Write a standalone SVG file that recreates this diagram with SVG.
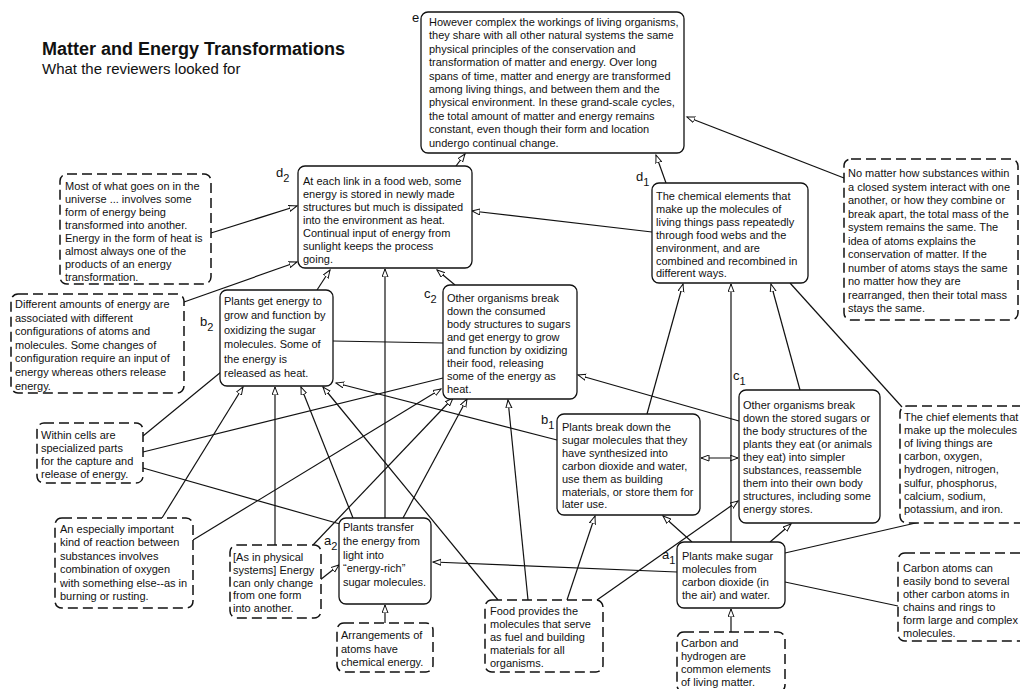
<svg xmlns="http://www.w3.org/2000/svg" width="1020" height="689" viewBox="0 0 1020 689">
<style>
text{font-family:"Liberation Sans",Arial,Helvetica,sans-serif;fill:#111;}
.t{font-size:11px;}
.lab{font-size:13px;}
.sub{font-size:11px;}
.box{fill:#fff;stroke:#111;stroke-width:1.3;}
.dbox{fill:#fff;stroke:#111;stroke-width:1.5;stroke-dasharray:10 5;}
.c{stroke:#111;stroke-width:1.2;fill:none;}
.a{marker-end:url(#ah);}
.b{marker-start:url(#ahs);}
</style>
<defs>
<marker id="ah" markerUnits="userSpaceOnUse" markerWidth="10" markerHeight="8" refX="8" refY="3.5" orient="auto">
<path d="M0,0.5 L8,3.5 L0,6.5 z" fill="#fff" stroke="#111" stroke-width="1"/>
</marker>
<marker id="ahs" markerUnits="userSpaceOnUse" markerWidth="10" markerHeight="8" refX="0" refY="3.5" orient="auto">
<path d="M8,0.5 L0,3.5 L8,6.5 z" fill="#fff" stroke="#111" stroke-width="1"/>
</marker>
</defs>
<rect width="1020" height="689" fill="#fff"/>

<g id="title">
<text x="42" y="55" style="font-size:18px;font-weight:bold">Matter and Energy Transformations</text>
<text x="42" y="74" style="font-size:15px">What the reviewers looked for</text>
</g>

<g id="connectors">
<line class="c a" x1="456" y1="166" x2="465" y2="154"/>
<line class="c a" x1="666" y1="183" x2="656" y2="155"/>
<line class="c a" x1="844" y1="178" x2="687" y2="117"/>
<line class="c a" x1="652" y1="232" x2="472" y2="211"/>
<line class="c a" x1="211" y1="233" x2="297" y2="206"/>
<line class="c a" x1="184" y1="302" x2="297" y2="262"/>
<line class="c a" x1="317" y1="290" x2="330" y2="270"/>
<line class="c a" x1="385" y1="518" x2="385" y2="269"/>
<line class="c a" x1="455" y1="285" x2="437" y2="270"/>
<line class="c" x1="333" y1="341" x2="443" y2="343"/>
<line class="c" x1="143" y1="436" x2="221" y2="372"/>
<line class="c" x1="143" y1="452" x2="443" y2="378"/>
<line class="c" x1="143" y1="468" x2="340" y2="524"/>
<line class="c a" x1="162" y1="518" x2="243" y2="387"/>
<line class="c a" x1="193" y1="540" x2="441" y2="389"/>
<line class="c a" x1="275" y1="545" x2="275" y2="387"/>
<line class="c a" x1="313" y1="545" x2="453" y2="398"/>
<line class="c a" x1="320" y1="580" x2="339" y2="565"/>
<line class="c a" x1="353" y1="518" x2="301" y2="387"/>
<line class="c a" x1="403" y1="518" x2="467" y2="399"/>
<line class="c a" x1="498" y1="600" x2="323" y2="387"/>
<line class="c a" x1="528" y1="600" x2="508" y2="400"/>
<line class="c a" x1="567" y1="600" x2="595" y2="516"/>
<line class="c a" x1="597" y1="600" x2="738" y2="501"/>
<line class="c a" x1="557" y1="440" x2="336" y2="383"/>
<line class="c a" x1="647" y1="414" x2="683" y2="284"/>
<line class="c a" x1="739" y1="421" x2="578" y2="375"/>
<line class="c a" x1="800" y1="390" x2="771" y2="284"/>
<line class="c a b" x1="701" y1="458" x2="738" y2="458"/>
<line class="c a" x1="731" y1="542" x2="731" y2="284"/>
<line class="c a" x1="692" y1="542" x2="663" y2="516"/>
<line class="c a" x1="770" y1="542" x2="791" y2="524"/>
<line class="c a" x1="677" y1="572" x2="433" y2="562"/>
<line class="c" x1="785" y1="553" x2="920" y2="522"/>
<line class="c" x1="785" y1="582" x2="898" y2="606"/>
<line class="c" x1="790" y1="283" x2="902" y2="407"/>
<line class="c a" x1="731" y1="632" x2="731" y2="609"/>
<line class="c a" x1="385" y1="623" x2="385" y2="605"/>
</g>

<g id="e">
<rect class="box" x="421" y="12" width="263" height="141" rx="7"/>
<text class="lab" x="412" y="22">e</text>
<text class="t"><tspan x="429" y="26">However complex the workings of living organisms,</tspan><tspan x="429" y="39.4">they share with all other natural systems the same</tspan><tspan x="429" y="52.8">physical principles of the conservation and</tspan><tspan x="429" y="66.2">transformation of matter and energy. Over long</tspan><tspan x="429" y="79.6">spans of time, matter and energy are transformed</tspan><tspan x="429" y="93">among living things, and between them and the</tspan><tspan x="429" y="106.4">physical environment. In these grand-scale cycles,</tspan><tspan x="429" y="119.8">the total amount of matter and energy remains</tspan><tspan x="429" y="133.2">constant, even though their form and location</tspan><tspan x="429" y="146.6">undergo continual change.</tspan></text>
</g>

<g id="d2">
<rect class="box" x="298" y="166" width="174" height="102" rx="7"/>
<text class="lab" x="276" y="177">d<tspan class="sub" dy="5">2</tspan></text>
<text class="t"><tspan x="303" y="185">At each link in a food web, some</tspan><tspan x="303" y="198">energy is stored in newly made</tspan><tspan x="303" y="211">structures but much is dissipated</tspan><tspan x="303" y="224">into the environment as heat.</tspan><tspan x="303" y="237">Continual input of energy from</tspan><tspan x="303" y="250">sunlight keeps the process</tspan><tspan x="303" y="263">going.</tspan></text>
</g>

<g id="d1">
<rect class="box" x="652" y="183" width="156" height="100" rx="7"/>
<text class="lab" x="636" y="181">d<tspan class="sub" dy="5">1</tspan></text>
<text class="t"><tspan x="656" y="200">The chemical elements that</tspan><tspan x="656" y="212.9">make up the molecules of</tspan><tspan x="656" y="225.8">living things pass repeatedly</tspan><tspan x="656" y="238.7">through food webs and the</tspan><tspan x="656" y="251.6">environment, and are</tspan><tspan x="656" y="264.5">combined and recombined in</tspan><tspan x="656" y="277.4">different ways.</tspan></text>
</g>

<g id="b2">
<rect class="box" x="220" y="290" width="113" height="96" rx="7"/>
<text class="lab" x="200" y="326">b<tspan class="sub" dy="5">2</tspan></text>
<text class="t"><tspan x="224" y="305">Plants get energy to</tspan><tspan x="224" y="319.4">grow and function by</tspan><tspan x="224" y="333.8">oxidizing the sugar</tspan><tspan x="224" y="348.2">molecules. Some of</tspan><tspan x="224" y="362.6">the energy is</tspan><tspan x="224" y="377">released as heat.</tspan></text>
</g>

<g id="c2">
<rect class="box" x="443" y="285" width="134" height="114" rx="7"/>
<text class="lab" x="424" y="298">c<tspan class="sub" dy="5">2</tspan></text>
<text class="t"><tspan x="447" y="302">Other organisms break</tspan><tspan x="447" y="315">down the consumed</tspan><tspan x="447" y="328">body structures to sugars</tspan><tspan x="447" y="341">and get energy to grow</tspan><tspan x="447" y="354">and function by oxidizing</tspan><tspan x="447" y="367">their food, releasing</tspan><tspan x="447" y="380">some of the energy as</tspan><tspan x="447" y="393">heat.</tspan></text>
</g>

<g id="b1">
<rect class="box" x="557" y="414" width="143" height="101" rx="7"/>
<text class="lab" x="541" y="424">b<tspan class="sub" dy="5">1</tspan></text>
<text class="t"><tspan x="562" y="431">Plants break down the</tspan><tspan x="562" y="443.9">sugar molecules that they</tspan><tspan x="562" y="456.8">have synthesized into</tspan><tspan x="562" y="469.7">carbon dioxide and water,</tspan><tspan x="562" y="482.6">use them as building</tspan><tspan x="562" y="495.5">materials, or store them for</tspan><tspan x="562" y="508.4">later use.</tspan></text>
</g>

<g id="c1">
<rect class="box" x="739" y="390" width="141" height="133" rx="7"/>
<text class="lab" x="733" y="380">c<tspan class="sub" dy="5">1</tspan></text>
<text class="t"><tspan x="743" y="409">Other organisms break</tspan><tspan x="743" y="422">down the stored sugars or</tspan><tspan x="743" y="435">the body structures of the</tspan><tspan x="743" y="448">plants they eat (or animals</tspan><tspan x="743" y="461">they eat) into simpler</tspan><tspan x="743" y="474">substances, reassemble</tspan><tspan x="743" y="487">them into their own body</tspan><tspan x="743" y="500">structures, including some</tspan><tspan x="743" y="513">energy stores.</tspan></text>
</g>

<g id="a2">
<rect class="box" x="339" y="518" width="92" height="86" rx="7"/>
<text class="lab" x="324" y="545">a<tspan class="sub" dy="5">2</tspan></text>
<text class="t"><tspan x="343" y="531">Plants transfer</tspan><tspan x="343" y="544.75">the energy from</tspan><tspan x="343" y="558.5">light into</tspan><tspan x="343" y="572.25">“energy-rich”</tspan><tspan x="343" y="586">sugar molecules.</tspan></text>
</g>

<g id="a1">
<rect class="box" x="677" y="542" width="108" height="66" rx="7"/>
<text class="lab" x="662" y="559">a<tspan class="sub" dy="5">1</tspan></text>
<text class="t"><tspan x="682" y="560">Plants make sugar</tspan><tspan x="682" y="573">molecules from</tspan><tspan x="682" y="586">carbon dioxide (in</tspan><tspan x="682" y="599">the air) and water.</tspan></text>
</g>

<g id="most-of-what">
<rect class="dbox" x="60" y="174" width="151" height="110" rx="7"/>
<text class="t"><tspan x="65" y="190">Most of what goes on in the</tspan><tspan x="65" y="203">universe ... involves some</tspan><tspan x="65" y="216">form of energy being</tspan><tspan x="65" y="229">transformed into another.</tspan><tspan x="65" y="242">Energy in the form of heat is</tspan><tspan x="65" y="255">almost always one of the</tspan><tspan x="65" y="268">products of an energy</tspan><tspan x="65" y="281">transformation.</tspan></text>
</g>

<g id="different-amounts">
<rect class="dbox" x="11" y="294" width="173" height="99" rx="7"/>
<text class="t"><tspan x="15" y="308">Different amounts of energy are</tspan><tspan x="15" y="321.6">associated with different</tspan><tspan x="15" y="335.2">configurations of atoms and</tspan><tspan x="15" y="348.8">molecules. Some changes of</tspan><tspan x="15" y="362.4">configuration require an input of</tspan><tspan x="15" y="376">energy whereas others release</tspan><tspan x="15" y="389.6">energy.</tspan></text>
</g>

<g id="no-matter">
<rect class="dbox" x="844" y="159" width="174" height="161" rx="7"/>
<text class="t"><tspan x="848" y="177">No matter how substances within</tspan><tspan x="848" y="190.5">a closed system interact with one</tspan><tspan x="848" y="204">another, or how they combine or</tspan><tspan x="848" y="217.5">break apart, the total mass of the</tspan><tspan x="848" y="231">system remains the same. The</tspan><tspan x="848" y="244.5">idea of atoms explains the</tspan><tspan x="848" y="258">conservation of matter. If the</tspan><tspan x="848" y="271.5">number of atoms stays the same</tspan><tspan x="848" y="285">no matter how they are</tspan><tspan x="848" y="298.5">rearranged, then their total mass</tspan><tspan x="848" y="312">stays the same.</tspan></text>
</g>

<g id="within-cells">
<rect class="dbox" x="37" y="423" width="106" height="60" rx="7"/>
<text class="t"><tspan x="41" y="439">Within cells are</tspan><tspan x="41" y="452">specialized parts</tspan><tspan x="41" y="465">for the capture and</tspan><tspan x="41" y="478">release of energy.</tspan></text>
</g>

<g id="especially-important">
<rect class="dbox" x="55" y="518" width="138" height="90" rx="7"/>
<text class="t"><tspan x="60" y="533">An especially important</tspan><tspan x="60" y="546.4">kind of reaction between</tspan><tspan x="60" y="559.8">substances involves</tspan><tspan x="60" y="573.2">combination of oxygen</tspan><tspan x="60" y="586.6">with something else--as in</tspan><tspan x="60" y="600">burning or rusting.</tspan></text>
</g>

<g id="as-in-physical">
<rect class="dbox" x="230" y="545" width="91" height="73" rx="7"/>
<text class="t"><tspan x="233" y="561">[As in physical</tspan><tspan x="233" y="573.75">systems] Energy</tspan><tspan x="233" y="586.5">can only change</tspan><tspan x="233" y="599.25">from one form</tspan><tspan x="233" y="612">into another.</tspan></text>
</g>

<g id="arrangements">
<rect class="dbox" x="337" y="623" width="96" height="49" rx="7"/>
<text class="t"><tspan x="341" y="639">Arrangements of</tspan><tspan x="341" y="652.5">atoms have</tspan><tspan x="341" y="666">chemical energy.</tspan></text>
</g>

<g id="food-provides">
<rect class="dbox" x="485" y="600" width="118" height="72" rx="7"/>
<text class="t"><tspan x="490" y="615">Food provides the</tspan><tspan x="490" y="628">molecules that serve</tspan><tspan x="490" y="641">as fuel and building</tspan><tspan x="490" y="654">materials for all</tspan><tspan x="490" y="667">organisms.</tspan></text>
</g>

<g id="carbon-hydrogen">
<rect class="dbox" x="677" y="632" width="108" height="60" rx="7"/>
<text class="t"><tspan x="681" y="647">Carbon and</tspan><tspan x="681" y="660">hydrogen are</tspan><tspan x="681" y="673">common elements</tspan><tspan x="681" y="686">of living matter.</tspan></text>
</g>

<g id="chief-elements">
<rect class="dbox" x="900" y="406" width="130" height="117" rx="7"/>
<text class="t"><tspan x="904" y="421">The chief elements that</tspan><tspan x="904" y="434.1">make up the molecules</tspan><tspan x="904" y="447.2">of living things are</tspan><tspan x="904" y="460.3">carbon, oxygen,</tspan><tspan x="904" y="473.4">hydrogen, nitrogen,</tspan><tspan x="904" y="486.5">sulfur, phosphorus,</tspan><tspan x="904" y="499.6">calcium, sodium,</tspan><tspan x="904" y="512.7">potassium, and iron.</tspan></text>
</g>

<g id="carbon-atoms">
<rect class="dbox" x="898" y="553" width="132" height="88" rx="7"/>
<text class="t"><tspan x="903" y="572">Carbon atoms can</tspan><tspan x="903" y="585">easily bond to several</tspan><tspan x="903" y="598">other carbon atoms in</tspan><tspan x="903" y="611">chains and rings to</tspan><tspan x="903" y="624">form large and complex</tspan><tspan x="903" y="637">molecules.</tspan></text>
</g>
</svg>
